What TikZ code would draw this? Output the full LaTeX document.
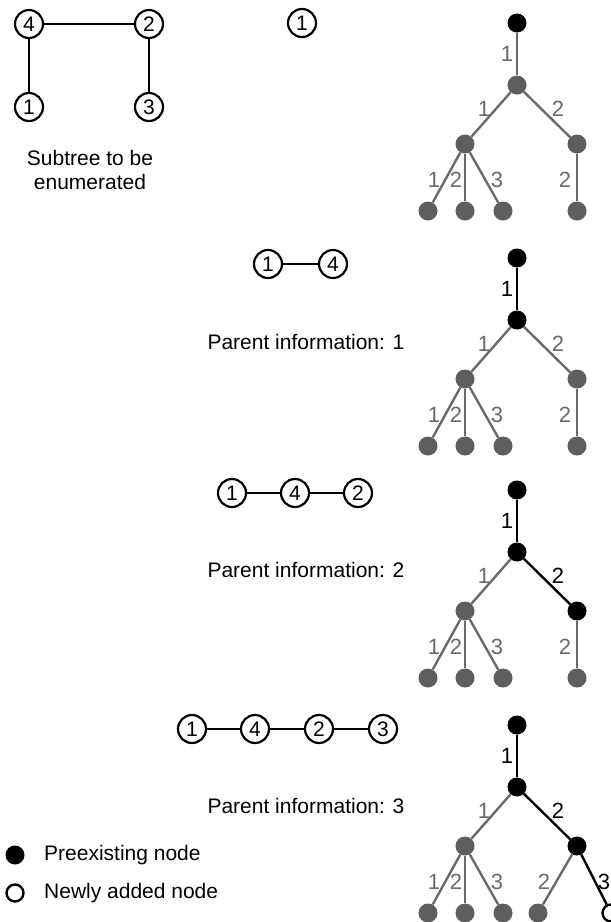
\documentclass[tikz,border=0pt]{standalone}
\usepackage{fontspec}
\setmainfont{Liberation Sans}
\definecolor{treegray}{HTML}{5E5E5E}
\definecolor{edgegray}{HTML}{6A6A6A}
\tikzset{
  vtx/.style={circle, draw=black, line width=2.2pt, fill=white, minimum size=28pt,
    inner sep=0pt, font=\fontsize{21}{21}\selectfont},
  chain/.style={line width=2.2pt, draw=black},
  tblack/.style={circle, fill=black, minimum size=19pt, inner sep=0pt},
  tgray/.style={circle, fill=treegray, minimum size=19pt, inner sep=0pt},
  tnew/.style={circle, draw=black, fill=white, line width=2.4pt, minimum size=17pt, inner sep=0pt},
  eblack/.style={line width=2.4pt, draw=black},
  egray/.style={line width=2.4pt, draw=edgegray},
  elbl/.style={inner sep=0pt, font=\fontsize{22}{22}\selectfont},
  elblgray/.style={elbl, text=edgegray},
  txt/.style={inner sep=0pt, font=\fontsize{21}{24}\selectfont},
}
\begin{document}
\begin{tikzpicture}[x=1pt, y=-1pt]
\useasboundingbox (0,0) rectangle (611,922);

% the subtree to be enumerated
\node[vtx] (s4) at (29,24) {4};
\node[vtx] (s2) at (149,24) {2};
\node[vtx] (s1) at (29,107) {1};
\node[vtx] (s3) at (149,107) {3};
\draw[chain] (s4) -- (s2);
\draw[chain] (s4) -- (s1);
\draw[chain] (s2) -- (s3);
\node[txt, align=center] (stext) at (90,170) {Subtree to be\\enumerated};

% step 0
\node[vtx] (c0a) at (302,23) {1};

% step 1
\node[vtx] (c1a) at (268,264) {1};
\node[vtx] (c1b) at (333,264) {4};
\draw[chain] (c1a) -- (c1b);
\node[txt] (p1) at (306,342) {Parent information: 1};

% step 2
\node[vtx] (c2a) at (232,493) {1};
\node[vtx] (c2b) at (295,493) {4};
\node[vtx] (c2c) at (358,493) {2};
\draw[chain] (c2a) -- (c2b);
\draw[chain] (c2b) -- (c2c);
\node[txt] (p2) at (306,570) {Parent information: 2};

% step 3
\node[vtx] (c3a) at (192,729) {1};
\node[vtx] (c3b) at (255,729) {4};
\node[vtx] (c3c) at (319,729) {2};
\node[vtx] (c3d) at (383,729) {3};
\draw[chain] (c3a) -- (c3b);
\draw[chain] (c3b) -- (c3c);
\draw[chain] (c3c) -- (c3d);
\node[txt] (p3) at (306,806) {Parent information: 3};

% enumeration tree, step 0
\begin{scope}[shift={(0,23)}]
\node[tblack] (t1r) at (517,0) {};
\node[tgray] (t1a) at (517,62) {};
\node[tgray] (t1b) at (465,121) {};
\node[tgray] (t1c) at (577,121) {};
\node[tgray] (t1l1) at (428,188) {};
\node[tgray] (t1l2) at (465,188) {};
\node[tgray] (t1l3) at (503,188) {};
\node[tgray] (t1l4) at (577,188) {};
\draw[egray] (t1r) -- (t1a);
\draw[egray] (t1a) -- (t1b);
\draw[egray] (t1a) -- (t1c);
\draw[egray] (t1b) -- (t1l1);
\draw[egray] (t1b) -- (t1l2);
\draw[egray] (t1b) -- (t1l3);
\draw[egray] (t1c) -- (t1l4);
\node[elblgray] (t1e1) at (507,31) {1};
\node[elblgray] (t1e2) at (484,86) {1};
\node[elblgray] (t1e3) at (558,86) {2};
\node[elblgray] (t1e4) at (434,157) {1};
\node[elblgray] (t1e5) at (456,157) {2};
\node[elblgray] (t1e6) at (497,157) {3};
\node[elblgray] (t1e7) at (565,157) {2};
\end{scope}

% enumeration tree, step 1
\begin{scope}[shift={(0,258)}]
\node[tblack] (t2r) at (517,0) {};
\node[tblack] (t2a) at (517,62) {};
\node[tgray] (t2b) at (465,121) {};
\node[tgray] (t2c) at (577,121) {};
\node[tgray] (t2l1) at (428,188) {};
\node[tgray] (t2l2) at (465,188) {};
\node[tgray] (t2l3) at (503,188) {};
\node[tgray] (t2l4) at (577,188) {};
\draw[eblack] (t2r) -- (t2a);
\draw[egray] (t2a) -- (t2b);
\draw[egray] (t2a) -- (t2c);
\draw[egray] (t2b) -- (t2l1);
\draw[egray] (t2b) -- (t2l2);
\draw[egray] (t2b) -- (t2l3);
\draw[egray] (t2c) -- (t2l4);
\node[elbl] (t2e1) at (507,31) {1};
\node[elblgray] (t2e2) at (484,86) {1};
\node[elblgray] (t2e3) at (558,86) {2};
\node[elblgray] (t2e4) at (434,157) {1};
\node[elblgray] (t2e5) at (456,157) {2};
\node[elblgray] (t2e6) at (497,157) {3};
\node[elblgray] (t2e7) at (565,157) {2};
\end{scope}

% enumeration tree, step 2
\begin{scope}[shift={(0,490)}]
\node[tblack] (t3r) at (517,0) {};
\node[tblack] (t3a) at (517,62) {};
\node[tgray] (t3b) at (465,121) {};
\node[tblack] (t3c) at (577,121) {};
\node[tgray] (t3l1) at (428,188) {};
\node[tgray] (t3l2) at (465,188) {};
\node[tgray] (t3l3) at (503,188) {};
\node[tgray] (t3l4) at (577,188) {};
\draw[eblack] (t3r) -- (t3a);
\draw[egray] (t3a) -- (t3b);
\draw[eblack] (t3a) -- (t3c);
\draw[egray] (t3b) -- (t3l1);
\draw[egray] (t3b) -- (t3l2);
\draw[egray] (t3b) -- (t3l3);
\draw[egray] (t3c) -- (t3l4);
\node[elbl] (t3e1) at (507,31) {1};
\node[elblgray] (t3e2) at (484,86) {1};
\node[elbl] (t3e3) at (558,86) {2};
\node[elblgray] (t3e4) at (434,157) {1};
\node[elblgray] (t3e5) at (456,157) {2};
\node[elblgray] (t3e6) at (497,157) {3};
\node[elblgray] (t3e7) at (565,157) {2};
\end{scope}

% enumeration tree, step 3
\begin{scope}[shift={(0,725)}]
\node[tblack] (t4r) at (517,0) {};
\node[tblack] (t4a) at (517,62) {};
\node[tgray] (t4b) at (465,121) {};
\node[tblack] (t4c) at (577,121) {};
\node[tgray] (t4l1) at (428,188) {};
\node[tgray] (t4l2) at (465,188) {};
\node[tgray] (t4l3) at (503,188) {};
\node[tgray] (t4l4) at (538,188) {};
\node[tnew] (t4n) at (611,188) {};
\draw[eblack] (t4r) -- (t4a);
\draw[egray] (t4a) -- (t4b);
\draw[eblack] (t4a) -- (t4c);
\draw[egray] (t4b) -- (t4l1);
\draw[egray] (t4b) -- (t4l2);
\draw[egray] (t4b) -- (t4l3);
\draw[egray] (t4c) -- (t4l4);
\draw[eblack] (t4c) -- (t4n);
\node[elbl] (t4e1) at (507,31) {1};
\node[elblgray] (t4e2) at (484,86) {1};
\node[elbl] (t4e3) at (558,86) {2};
\node[elblgray] (t4e4) at (434,157) {1};
\node[elblgray] (t4e5) at (456,157) {2};
\node[elblgray] (t4e6) at (497,157) {3};
\node[elblgray] (t4e7) at (544,157) {2};
\node[elbl] (t4e8) at (604,157) {3};
\end{scope}

% legend
\node[tblack] (lgold) at (15,855) {};
\node[txt, anchor=west] (lgoldt) at (44,855) {Preexisting node};
\node[tnew] (lgnew) at (15,893) {};
\node[txt, anchor=west] (lgnewt) at (44,893) {Newly added node};
\end{tikzpicture}
\end{document}
